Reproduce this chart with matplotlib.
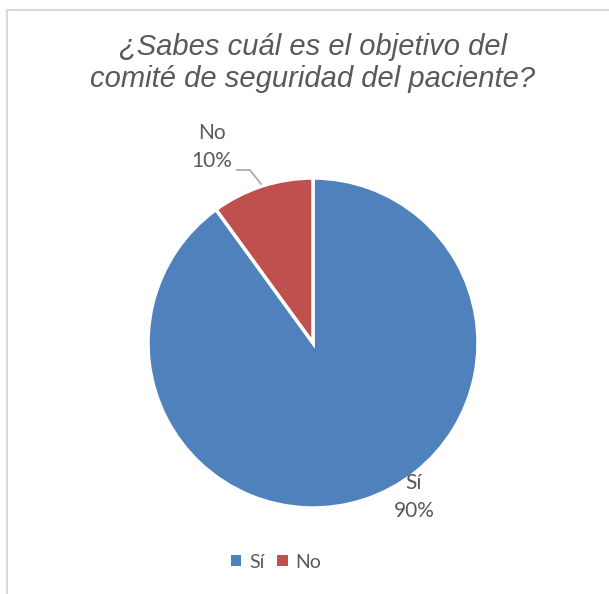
import matplotlib
matplotlib.use("Agg")
import matplotlib.pyplot as plt
from matplotlib.patches import Patch
from matplotlib.lines import Line2D

categories = ["Sí", "No"]
values = [90, 10]
colors = ["#4F81BD", "#C0504D"]
title = "¿Sabes cuál es el objetivo del\ncomité de seguridad del paciente?"

W, H = 609, 594
fig = plt.figure(figsize=(W / 100, H / 100), dpi=100)
ax = fig.add_axes([0, 0, 1, 1])

cx, cy, r = 313, H - 343, 165
wedges, _ = ax.pie(values, colors=colors, startangle=90, counterclock=False,
                   center=(cx, cy), radius=r,
                   wedgeprops=dict(edgecolor="white", linewidth=2.5))
ax.set_xlim(0, W)
ax.set_ylim(0, H)
ax.set_aspect("equal")
ax.axis("off")

gray = "#595959"
lab_font = "Lato"
# data labels
ax.text(212, H - 147, f"{categories[1]}\n{values[1]}%", ha="center", va="center",
        fontsize=15, color=gray, family=lab_font, linespacing=1.45)
ax.text(414, H - 497, f"{categories[0]}\n{values[0]}%", ha="center", va="center",
        fontsize=15, color=gray, family=lab_font, linespacing=1.45)
# leader line
ax.plot([237, 250, 261], [H - 170, H - 170, H - 184], color="#a6a6a6", lw=1.2)

# title
fig.text(313 / W, 1 - 63 / H, title, ha="center", va="center", fontsize=21,
         style="italic", color=gray, family="Liberation Sans", linespacing=1.22)

# border (top and left)
fig.add_artist(Line2D([7 / W, 1], [1 - 10 / H, 1 - 10 / H], color="#d9d9d9", lw=1.5,
                      transform=fig.transFigure))
fig.add_artist(Line2D([7 / W, 7 / W], [0, 1 - 10 / H], color="#d9d9d9", lw=1.5,
                      transform=fig.transFigure))

handles = [Patch(facecolor=c, edgecolor="none") for c in colors]
leg = fig.legend(handles, categories, loc="center", bbox_to_anchor=(276 / W, 1 - 562 / H),
                 ncol=2, frameon=False, handlelength=0.55, handleheight=0.55,
                 handletextpad=0.4, columnspacing=0.65,
                 prop=dict(family=lab_font, size=14))
for t in leg.get_texts():
    t.set_color(gray)

fig.savefig("out.png", dpi=100)
